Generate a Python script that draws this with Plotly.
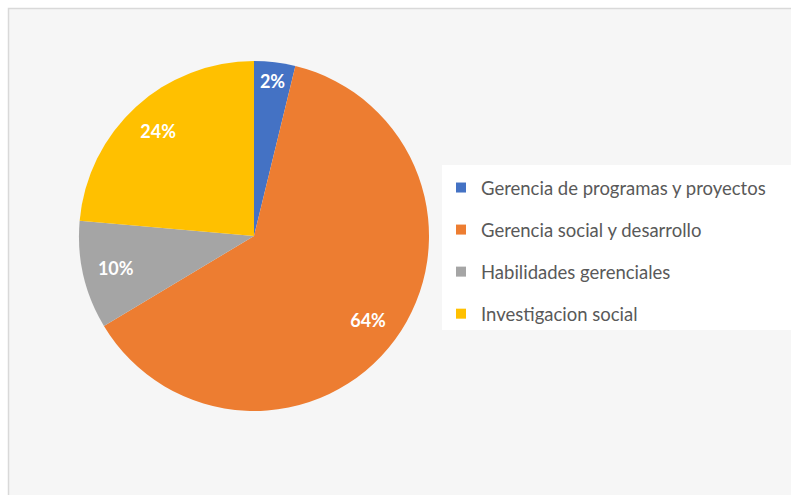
import plotly.graph_objects as go

categories = ["Gerencia de programas y proyectos", "Gerencia social y desarrollo",
              "Habilidades gerenciales", "Investigacion social"]
values = [3.8, 62.6, 10.0, 23.6]
pct_labels = ["2%", "64%", "10%", "24%"]
colors = ["#4472C4", "#ED7D31", "#A5A5A5", "#FFC000"]

W, H = 791, 495
fig = go.Figure()

cx, cy, R = 254, 236, 175
dom = dict(x=[(cx - R) / W, (cx + R) / W], y=[(H - cy - R) / H, (H - cy + R) / H])

# the pie itself
fig.add_trace(go.Pie(
    labels=categories, values=values, textinfo="none",
    sort=False, direction="clockwise", rotation=0,
    marker=dict(colors=colors, line=dict(width=0)),
    domain=dom, showlegend=False, hoverinfo="label+percent",
))
# transparent ring carrying the data labels near the outer edge
fig.add_trace(go.Pie(
    labels=categories, values=values, text=pct_labels, hole=0.62,
    texttemplate="%{text}", textposition="inside", insidetextorientation="horizontal",
    sort=False, direction="clockwise", rotation=0,
    marker=dict(colors=["rgba(0,0,0,0)"] * len(values), line=dict(width=0)),
    textfont=dict(family="Lato", size=18, color="white", weight="bold"),
    domain=dom, showlegend=False, hoverinfo="skip",
))

for i, (name, col) in enumerate(zip(categories, colors)):
    fig.add_trace(go.Scatter(
        x=[None], y=[None], mode="markers", name=name, legendgroup=f"g{i}",
        marker=dict(symbol="square", size=10, color=col),
    ))

fig.update_layout(
    width=W, height=H,
    margin=dict(l=0, r=0, t=0, b=0),
    paper_bgcolor="white", plot_bgcolor="rgba(0,0,0,0)",
    xaxis=dict(visible=False), yaxis=dict(visible=False),
    shapes=[
        dict(type="rect", xref="paper", yref="paper", x0=8.5 / W, x1=1.05, y0=-0.05, y1=1 - 8.5 / H,
             fillcolor="#f6f6f6", line=dict(color="#d9d9d9", width=1.5), layer="below"),
        dict(type="rect", xref="paper", yref="paper", x0=442 / W, x1=1.05, y0=(H - 330) / H, y1=(H - 165) / H,
             fillcolor="white", line=dict(width=0), layer="below"),
    ],
    legend=dict(x=441 / W, xanchor="left", y=(H - 251) / H, yanchor="middle",
                bgcolor="rgba(0,0,0,0)", tracegroupgap=15,
                font=dict(family="Lato", size=18.5, color="#595959")),
    showlegend=True,
)

fig.write_html("out.html", config={"displayModeBar": False},
               post_script="document.body.style.margin='0';document.body.style.overflow='hidden';")
